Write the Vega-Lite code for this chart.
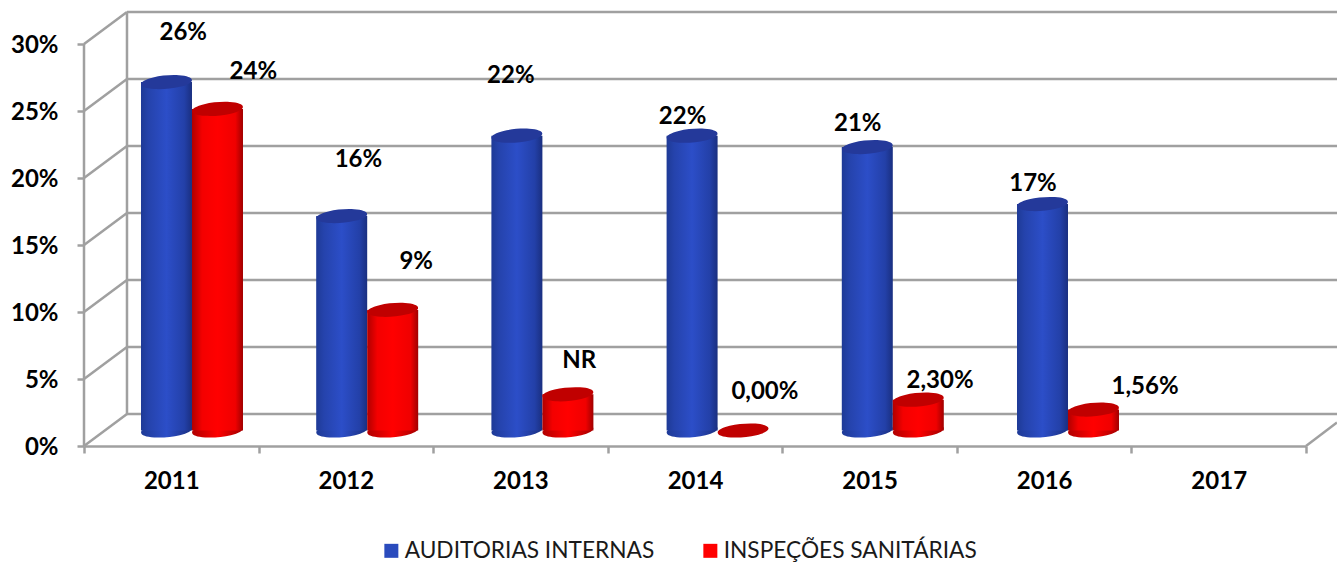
{
"$schema":"https://vega.github.io/schema/vega-lite/v6.json",
"autosize":{"type":"none"},
"padding":{"left":84,"top":12,"right":0,"bottom":116},
"width":1253,"height":434,
"background":"white",
"config":{"view":{"stroke":null},"font":"Lato"},
"datasets":{
"bars":[
{"year":2011,"serie":"AUDITORIAS INTERNAS","value":26,"label":"26%","labelYear":2010.95,"labelAt":29.63},
{"year":2012,"serie":"AUDITORIAS INTERNAS","value":16,"label":"16%","labelYear":2011.95,"labelAt":20.22},
{"year":2013,"serie":"AUDITORIAS INTERNAS","value":22,"label":"22%","labelYear":2012.82,"labelAt":26.49},
{"year":2014,"serie":"AUDITORIAS INTERNAS","value":22,"label":"22%","labelYear":2013.80,"labelAt":23.43},
{"year":2015,"serie":"AUDITORIAS INTERNAS","value":21.15,"label":"21%","labelYear":2014.80,"labelAt":22.84},
{"year":2016,"serie":"AUDITORIAS INTERNAS","value":16.9,"label":"17%","labelYear":2015.80,"labelAt":18.43},
{"year":2011,"serie":"INSPEÇÕES SANITÁRIAS","value":24,"label":"24%","labelYear":2011.35,"labelAt":26.72},
{"year":2012,"serie":"INSPEÇÕES SANITÁRIAS","value":9,"label":"9%","labelYear":2012.28,"labelAt":12.61},
{"year":2013,"serie":"INSPEÇÕES SANITÁRIAS","value":2.7,"label":"NR","labelYear":2013.21,"labelAt":5.15},
{"year":2014,"serie":"INSPEÇÕES SANITÁRIAS","value":0,"label":"0,00%","labelYear":2014.27,"labelAt":2.91},
{"year":2015,"serie":"INSPEÇÕES SANITÁRIAS","value":2.3,"label":"2,30%","labelYear":2015.27,"labelAt":3.73},
{"year":2016,"serie":"INSPEÇÕES SANITÁRIAS","value":1.56,"label":"1,56%","labelYear":2016.44,"labelAt":3.28}
],
"frame":[
{"x":2010.629,"x2":2017.5354,"y":2.39,"y2":2.39},
{"x":2010.629,"x2":2017.5354,"y":7.39,"y2":7.39},
{"x":2010.629,"x2":2017.5354,"y":12.39,"y2":12.39},
{"x":2010.629,"x2":2017.5354,"y":17.39,"y2":17.39},
{"x":2010.629,"x2":2017.5354,"y":22.39,"y2":22.39},
{"x":2010.629,"x2":2017.5354,"y":27.39,"y2":27.39},
{"x":2010.629,"x2":2017.5354,"y":32.39,"y2":32.39},
{"x":2010.3836,"x2":2010.629,"y":0,"y2":2.39},
{"x":2010.3836,"x2":2010.629,"y":5,"y2":7.39},
{"x":2010.3836,"x2":2010.629,"y":10,"y2":12.39},
{"x":2010.3836,"x2":2010.629,"y":15,"y2":17.39},
{"x":2010.3836,"x2":2010.629,"y":20,"y2":22.39},
{"x":2010.3836,"x2":2010.629,"y":25,"y2":27.39},
{"x":2010.3836,"x2":2010.629,"y":30,"y2":32.39},
{"x":2010.629,"x2":2010.629,"y":2.39,"y2":32.39},
{"x":2010.3836,"x2":2010.3836,"y":0,"y2":30},
{"x":2017.3585,"x2":2017.5354,"y":0,"y2":1.75}
]
},
"resolve":{"scale":{"x":"independent","y":"independent"},"axis":{"x":"independent","y":"independent"}},
"layer":[
{"data":{"name":"frame"},
 "mark":{"type":"rule","stroke":"#a0a0a0","strokeWidth":2.5},
 "encoding":{
  "x":{"field":"x","type":"quantitative","scale":{"domain":[2010.3836,2017.5354],"nice":false,"zero":false},"axis":null},
  "x2":{"field":"x2"},
  "y":{"field":"y","type":"quantitative","scale":{"domain":[0,32.39],"nice":false},"axis":null},
  "y2":{"field":"y2"}}},
{"data":{"name":"bars"},
 "mark":{"type":"bar","opacity":0},
 "encoding":{
  "x":{"field":"year","type":"ordinal","scale":{"domain":[2011,2012,2013,2014,2015,2016,2017],"range":[0,1222],"paddingInner":0,"paddingOuter":0},
    "axis":{"orient":"bottom","title":null,"labelAngle":0,"labelFont":"Lato","labelFontWeight":"bold","labelFontSize":24,"labelColor":"#000000","labelPadding":16,"tickBand":"extent","tickSize":7,"tickWidth":2.5,"tickColor":"#a0a0a0","domainColor":"#a0a0a0","domainWidth":2.5,"grid":false}},
  "y":{"field":"value","type":"quantitative","scale":{"domain":[0,32.39],"nice":false},
    "axis":{"orient":"left","title":null,"values":[0,5,10,15,20,25,30],"labelExpr":"datum.value + '%'","labelFont":"Lato","labelFontWeight":"bold","labelFontSize":24,"labelColor":"#000000","labelPadding":19,"labelOffset":1.5,"tickSize":7,"tickWidth":2.5,"tickColor":"#a0a0a0","domain":false,"grid":false}}}},
{"data":{"name":"bars"},"transform":[{"filter":"datum.serie === 'AUDITORIAS INTERNAS'"}],
 "mark":{"type":"point","filled":true,"opacity":1,"shape":"M-0.996 0.087 A1 0.26 -5 1 1 0.996 -0.087 A1 0.26 -5 1 1 -0.996 0.087 Z","size":2601,"xOffset":-25.5,"fill":{"gradient":"linear","x1":0,"x2":1,"y1":0,"y2":0,"stops":[{"offset":0,"color":"#1e3a96"},{"offset":0.5,"color":"#2c4ec8"},{"offset":1,"color":"#1a2f80"}]}},
 "encoding":{"x":{"field":"year","type":"quantitative","scale":{"domain":[2010.3836,2017.5354],"nice":false,"zero":false},"axis":null},"y":{"datum":0,"type":"quantitative","scale":{"domain":[-1.157,31.233],"nice":false},"axis":null}}},
{"data":{"name":"bars"},"transform":[{"filter":"datum.serie === 'AUDITORIAS INTERNAS'"}],
 "mark":{"type":"bar","orient":"vertical","width":51,"xOffset":-25.5,"color":{"gradient":"linear","x1":0,"x2":1,"y1":0,"y2":0,"stops":[{"offset":0,"color":"#1e3a96"},{"offset":0.15,"color":"#2543ac"},{"offset":0.5,"color":"#2c4ec8"},{"offset":0.85,"color":"#2340a8"},{"offset":1,"color":"#1a2f80"}]}},
 "encoding":{"x":{"field":"year","type":"quantitative","scale":{"domain":[2010.3836,2017.5354],"nice":false,"zero":false,"padding":0},"axis":null},"y":{"field":"value","type":"quantitative","scale":{"domain":[-1.157,31.233],"nice":false},"axis":null},"y2":{"datum":0}}},
{"data":{"name":"bars"},"transform":[{"filter":"datum.serie === 'AUDITORIAS INTERNAS'"}],
 "mark":{"type":"point","filled":true,"opacity":1,"fill":"#24399a","shape":"M-0.996 0.087 A1 0.26 -5 1 1 0.996 -0.087 A1 0.26 -5 1 1 -0.996 0.087 Z","size":2601,"xOffset":-25.5},
 "encoding":{"x":{"field":"year","type":"quantitative","scale":{"domain":[2010.3836,2017.5354],"nice":false,"zero":false},"axis":null},"y":{"field":"value","type":"quantitative","scale":{"domain":[-1.157,31.233],"nice":false},"axis":null}}},
{"data":{"name":"bars"},"transform":[{"filter":"datum.serie !== 'AUDITORIAS INTERNAS' && datum.value > 0"}],
 "mark":{"type":"point","filled":true,"opacity":1,"shape":"M-0.996 0.087 A1 0.26 -5 1 1 0.996 -0.087 A1 0.26 -5 1 1 -0.996 0.087 Z","size":2601,"xOffset":25.5,"fill":{"gradient":"linear","x1":0,"x2":1,"y1":0,"y2":0,"stops":[{"offset":0,"color":"#b00000"},{"offset":0.5,"color":"#ff0000"},{"offset":1,"color":"#a00000"}]}},
 "encoding":{"x":{"field":"year","type":"quantitative","scale":{"domain":[2010.3836,2017.5354],"nice":false,"zero":false},"axis":null},"y":{"datum":0,"type":"quantitative","scale":{"domain":[-1.157,31.233],"nice":false},"axis":null}}},
{"data":{"name":"bars"},"transform":[{"filter":"datum.serie !== 'AUDITORIAS INTERNAS' && datum.value > 0"}],
 "mark":{"type":"bar","orient":"vertical","width":51,"xOffset":25.5,"color":{"gradient":"linear","x1":0,"x2":1,"y1":0,"y2":0,"stops":[{"offset":0,"color":"#b00000"},{"offset":0.2,"color":"#f40000"},{"offset":0.5,"color":"#ff0000"},{"offset":0.85,"color":"#f00000"},{"offset":1,"color":"#a00000"}]}},
 "encoding":{"x":{"field":"year","type":"quantitative","scale":{"domain":[2010.3836,2017.5354],"nice":false,"zero":false,"padding":0},"axis":null},"y":{"field":"value","type":"quantitative","scale":{"domain":[-1.157,31.233],"nice":false},"axis":null},"y2":{"datum":0}}},
{"data":{"name":"bars"},"transform":[{"filter":"datum.serie !== 'AUDITORIAS INTERNAS'"}],
 "mark":{"type":"point","filled":true,"opacity":1,"fill":"#c00000","shape":"M-0.996 0.087 A1 0.26 -5 1 1 0.996 -0.087 A1 0.26 -5 1 1 -0.996 0.087 Z","size":2601,"xOffset":25.5},
 "encoding":{"x":{"field":"year","type":"quantitative","scale":{"domain":[2010.3836,2017.5354],"nice":false,"zero":false},"axis":null},"y":{"field":"value","type":"quantitative","scale":{"domain":[-1.157,31.233],"nice":false},"axis":null}}},
{"data":{"name":"bars"},
 "mark":{"type":"text","font":"Lato","fontWeight":"bold","fontSize":24,"color":"#000000","align":"center","baseline":"middle"},
 "encoding":{"x":{"field":"labelYear","type":"quantitative","scale":{"domain":[2010.3836,2017.5354],"nice":false,"zero":false},"axis":null},"y":{"field":"labelAt","type":"quantitative","scale":{"domain":[-1.157,31.233],"nice":false},"axis":null},"text":{"field":"label","type":"nominal"}}},
{"data":{"name":"bars"},"transform":[{"filter":"datum.value < 0"}],
 "mark":{"type":"point","filled":true},
 "encoding":{
  "x":{"field":"year","type":"quantitative","scale":{"domain":[2010.3836,2017.5354],"nice":false,"zero":false},"axis":null},
  "y":{"field":"value","type":"quantitative","scale":{"domain":[-1.157,31.233],"nice":false},"axis":null},
  "color":{"field":"serie","type":"nominal","scale":{"domain":["AUDITORIAS INTERNAS","INSPEÇÕES SANITÁRIAS"],"range":["#2a4bbd","#ff0000"]},
   "legend":{"orient":"none","legendX":296,"legendY":527,"direction":"horizontal","columns":2,"title":null,"symbolType":"square","symbolSize":196,"symbolOpacity":1,"labelFont":"Lato","labelFontSize":22.7,"labelColor":"#1a1a1a","labelLimit":400,"columnPadding":44,"labelOffset":2,"gridAlign":"each"}}}}
]
}
